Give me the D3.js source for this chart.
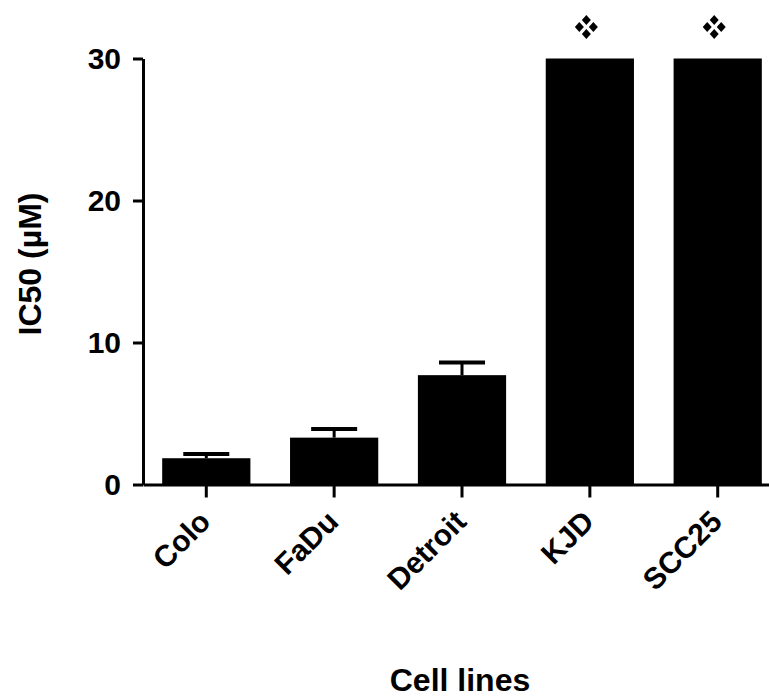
<!DOCTYPE html>
<html>
<head>
<meta charset="utf-8">
<script src="https://cdn.jsdelivr.net/npm/d3@7"></script>
<style>
  body { margin: 0; background: #fff; }
  text { font-family: "Liberation Sans", Arial, sans-serif; font-weight: bold; }
</style>
</head>
<body>
<svg id="chart" width="769" height="697"></svg>
<script>
// data
let cellLines = ["Colo", "FaDu", "Detroit", "KJD", "SCC25"]
let ic50 = [1.85, 3.3, 7.7, 30, 30]
let sem = [0.3, 0.6, 0.9, 0, 0]
let flagged = ["KJD", "SCC25"]
let yTicks = [0, 10, 20, 30]

let width = 769
let height = 697
let margin = { left: 143, top: 58.5, right: 0, bottom: 212.5 }

let svg = d3.select("#chart")

let xScale = d3.scaleBand()
    .domain(cellLines)
    .range([margin.left, 781])
    .paddingInner(0.31)
    .paddingOuter(0.15)

let yScale = d3.scaleLinear()
    .domain([0, 30])
    .range([height - margin.bottom, margin.top])

// bars
svg.append("g")
    .selectAll("rect")
    .data(cellLines)
    .join("rect")
    .attr("x", d => xScale(d))
    .attr("width", xScale.bandwidth())
    .attr("y", (d, i) => yScale(ic50[i]))
    .attr("height", (d, i) => yScale(0) - yScale(ic50[i]))
    .attr("fill", "#000")

// upper error bars
let errG = svg.append("g").attr("stroke", "#000")
cellLines.forEach(function (d, i) {
    if (sem[i] <= 0) return
    let cx = xScale(d) + xScale.bandwidth() / 2
    errG.append("line")
        .attr("x1", cx).attr("x2", cx)
        .attr("y1", yScale(ic50[i])).attr("y2", yScale(ic50[i] + sem[i]))
        .attr("stroke-width", 3)
    errG.append("line")
        .attr("x1", cx - 23).attr("x2", cx + 23)
        .attr("y1", yScale(ic50[i] + sem[i])).attr("y2", yScale(ic50[i] + sem[i]))
        .attr("stroke-width", 4)
})

// four-diamond markers above flagged bars
function diamond(cx, cy, w, h) {
    return "M" + cx + "," + (cy - h) + "L" + (cx + w) + "," + cy +
        "L" + cx + "," + (cy + h) + "L" + (cx - w) + "," + cy + "Z"
}
flagged.forEach(function (d) {
    let cx = xScale(d) + xScale.bandwidth() / 2 - 3.5
    let cy = 27
    let offs = [[0, -7], [-7, 0], [7, 0], [0, 7]]
    offs.forEach(function (o) {
        svg.append("path")
            .attr("d", diamond(cx + o[0], cy + o[1], 4.5, 5))
            .attr("fill", "#000")
    })
})

// axes
let xAxis = svg.append("g")
    .attr("transform", "translate(0," + yScale(0) + ")")
    .call(d3.axisBottom(xScale).tickSize(13).tickSizeOuter(0).tickPadding(0))
xAxis.select(".domain").attr("stroke-width", 3)
xAxis.selectAll(".tick line").attr("stroke-width", 3)
xAxis.selectAll("text")
    .attr("font-size", 30)
    .attr("fill", "#000")
    .style("text-anchor", "end")
    .attr("transform", "translate(6,39) rotate(-45)")
    .attr("y", 0)
    .attr("dy", 0)

let yAxis = svg.append("g")
    .attr("transform", "translate(" + margin.left + ",0)")
    .call(d3.axisLeft(yScale).tickValues(yTicks).tickSize(10).tickSizeOuter(0).tickPadding(12))
yAxis.select(".domain").attr("stroke-width", 3)
yAxis.selectAll(".tick line").attr("stroke-width", 3)
yAxis.selectAll("text")
    .attr("font-size", 30)
    .attr("fill", "#000")

// axis titles
svg.append("text")
    .attr("transform", "rotate(-90)")
    .attr("x", -264)
    .attr("y", 41)
    .attr("text-anchor", "middle")
    .attr("font-size", 32)
    .text("IC50 (µM)")

svg.append("text")
    .attr("x", 460)
    .attr("y", 691)
    .attr("text-anchor", "middle")
    .attr("font-size", 32)
    .text("Cell lines")
</script>
</body>
</html>
